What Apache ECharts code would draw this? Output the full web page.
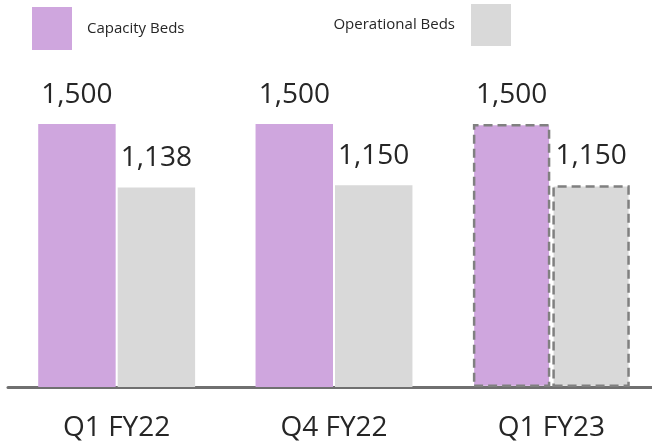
<!DOCTYPE html>
<html>
<head>
<meta charset="utf-8">
<script src="https://cdn.jsdelivr.net/npm/echarts@6/dist/echarts.min.js"></script>
<style>
  html, body { margin: 0; padding: 0; background: #fff; }
  #chart { width: 652px; height: 444px; }
</style>
</head>
<body>
<div id="chart"></div>
<script>
    // data
    var categories = ['Q1 FY22', 'Q4 FY22', 'Q1 FY23'];
    var capacityBeds = [1500, 1500, 1500];
    var operationalBeds = [1138, 1150, 1150];
    var projected = [false, false, true]; // last quarter drawn with dashed border

    var fontFam = '"Open Sans", "Noto Sans", sans-serif';

    function toItems(values, color) {
        return values.map(function (v, i) {
            var item = { value: v };
            if (projected[i]) {
                item.itemStyle = {
                    color: color,
                    borderColor: '#808080',
                    borderWidth: 2.5,
                    borderType: [9, 5]
                };
            }
            return item;
        });
    }

    var labelStyle = {
        show: true,
        position: 'top',
        distance: 15,
        fontSize: 28,
        fontFamily: fontFam,
        color: '#262626',
        formatter: function (p) {
            return p.value.toLocaleString('en-US');
        }
    };

    var myChart = echarts.init(document.getElementById('chart'));
    var option = {
        animation: false,
        legend: [{
            data: ['Capacity Beds'],
            left: 27,
            top: 2,
            icon: 'rect',
            itemWidth: 40,
            itemHeight: 43,
            textStyle: {
                fontSize: 15, fontFamily: fontFam, color: '#262626',
                padding: [12, 0, 0, 10]
            }
        }, {
            data: ['Operational Beds'],
            right: 136,
            top: -1,
            align: 'right',
            icon: 'rect',
            itemWidth: 40,
            itemHeight: 42,
            textStyle: {
                fontSize: 15, fontFamily: fontFam, color: '#262626',
                padding: [8, 11, 0, 0]
            }
        }],
        grid: {
            left: 8,
            right: -8,
            top: 124,
            bottom: 57,
            outerBoundsMode: 'none'
        },
        xAxis: {
            type: 'category',
            data: categories,
            axisLine: { lineStyle: { color: '#707070', width: 3 } },
            axisTick: { show: false },
            axisLabel: {
                margin: 27,
                fontSize: 28,
                fontFamily: fontFam,
                color: '#262626'
            }
        },
        yAxis: {
            type: 'value',
            min: 0,
            max: 1500,
            show: false
        },
        series: [{
            name: 'Capacity Beds',
            type: 'bar',
            data: toItems(capacityBeds, '#CFA6DE'),
            itemStyle: { color: '#CFA6DE' },
            barCategoryGap: '27.8%',
            barGap: '2.6%',
            label: labelStyle
        }, {
            name: 'Operational Beds',
            type: 'bar',
            data: toItems(operationalBeds, '#D9D9D9'),
            itemStyle: { color: '#D9D9D9' },
            label: labelStyle
        }]
    };
    myChart.setOption(option);
</script>
</body>
</html>
